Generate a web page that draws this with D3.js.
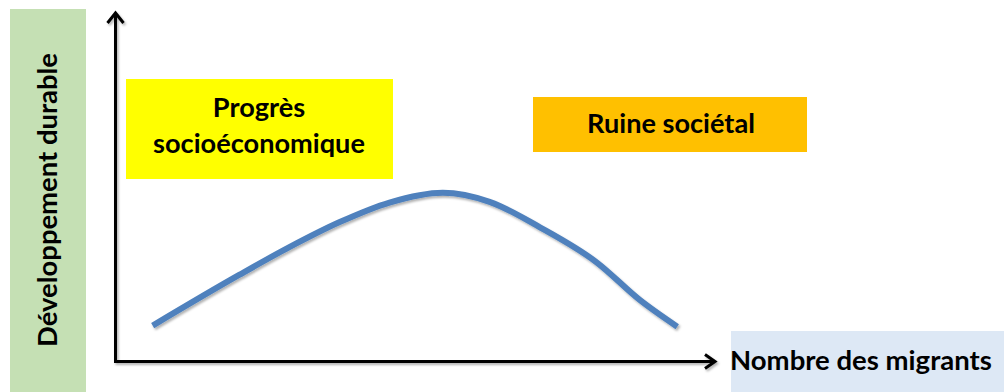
<!DOCTYPE html>
<html>
<head>
<meta charset="utf-8">
<script src="https://cdn.jsdelivr.net/npm/d3@7"></script>
<style>
  html, body { margin: 0; padding: 0; background: #ffffff; }
  svg { display: block; }
  text { font-family: Lato, "Open Sans", sans-serif; font-weight: bold; fill: #000; }
</style>
</head>
<body>
<svg id="chart" width="1004" height="392"></svg>
<script>
// Conceptual curve: sustainable development vs number of migrants (arbitrary units 0-100)
const migrants = [6.2, 20.7, 29.0, 37.4, 45.7, 54.6, 62.4, 70.8, 80.3, 87.5, 93.7];
const development = [10.3, 24.9, 32.8, 40.0, 45.6, 48.4, 45.8, 38.5, 28.4, 17.6, 10.0];
const yAxisLabel = "Développement durable";
const xAxisLabel = "Nombre des migrants";
const leftZoneLabel = ["Progrès", "socioéconomique"];
const rightZoneLabel = ["Ruine sociétal"];

const svg = d3.select("#chart");
const x = d3.scaleLinear().domain([0, 100]).range([115.5, 715]);
const y = d3.scaleLinear().domain([0, 100]).range([361.5, 13]);

const defs = svg.append("defs");
const sh = defs.append("filter").attr("id", "shadow").attr("x", "-10%").attr("y", "-10%").attr("width", "120%").attr("height", "130%");
sh.append("feDropShadow").attr("dx", 1.5).attr("dy", 2).attr("stdDeviation", 1.2).attr("flood-color", "#000").attr("flood-opacity", 0.3);

// Background bands / boxes
svg.append("rect").attr("x", 10).attr("y", 9).attr("width", 76).attr("height", 383).attr("fill", "#c5e0b4");
svg.append("rect").attr("x", 126).attr("y", 79).attr("width", 267).attr("height", 100).attr("fill", "#ffff00");
svg.append("rect").attr("x", 533).attr("y", 97).attr("width", 274).attr("height", 55).attr("fill", "#ffc000");
svg.append("rect").attr("x", 731).attr("y", 331).attr("width", 273).attr("height", 61).attr("fill", "#dde8f5");

function fitText(sel, targetWidth) {
  const node = sel.node();
  const fs = parseFloat(sel.attr("font-size"));
  const w = node.getComputedTextLength();
  sel.attr("font-size", (fs * targetWidth / w).toFixed(2));
}

// Axes with arrowheads
const axes = svg.append("g").attr("filter", "url(#shadow)");
axes.append("path")
  .attr("d", `M${x(0)},${y(0)} L${x(0)},${y(100) + 1.5} M${x(0) - 1.5},${y(0)} L${x(100) - 1.5},${y(0)}`)
  .attr("stroke", "#000").attr("stroke-width", 3).attr("fill", "none");
axes.append("path")
  .attr("d", `M${x(0) - 8},${y(100) + 10} L${x(0)},${y(100)} L${x(0) + 8},${y(100) + 10}`)
  .attr("stroke", "#000").attr("stroke-width", 3).attr("fill", "none").attr("stroke-linejoin", "miter");
axes.append("path")
  .attr("d", `M${x(100) - 10},${y(0) - 7} L${x(100)},${y(0)} L${x(100) - 10},${y(0) + 7}`)
  .attr("stroke", "#000").attr("stroke-width", 3).attr("fill", "none").attr("stroke-linejoin", "miter");

// Curve
const pts = migrants.map((m, i) => [m, development[i]]);
const line = d3.line().x(d => x(d[0])).y(d => y(d[1])).curve(d3.curveMonotoneX);
svg.append("path").datum(pts)
  .attr("d", line)
  .attr("fill", "none")
  .attr("stroke", "#4f81bd")
  .attr("stroke-width", 6)
  .attr("filter", "url(#shadow)");

// Texts
const yl = svg.append("text")
  .attr("transform", "translate(57,200) rotate(-90)")
  .attr("text-anchor", "middle")
  .attr("font-size", 22)
  .text(yAxisLabel);
fitText(yl, 294);

const t1 = svg.append("text").attr("x", 259).attr("y", 117).attr("text-anchor", "middle").attr("font-size", 22).text(leftZoneLabel[0]);
const t2 = svg.append("text").attr("x", 259).attr("y", 153).attr("text-anchor", "middle").attr("font-size", 22).text(leftZoneLabel[1]);
fitText(t2, 212);
t1.attr("font-size", t2.attr("font-size"));

const t3 = svg.append("text").attr("x", 671).attr("y", 133).attr("text-anchor", "middle").attr("font-size", 22).text(rightZoneLabel[0]);
fitText(t3, 168);

const t4 = svg.append("text").attr("x", 730).attr("y", 370).attr("text-anchor", "start").attr("font-size", 22).text(xAxisLabel);
fitText(t4, 262);
</script>
</body>
</html>
